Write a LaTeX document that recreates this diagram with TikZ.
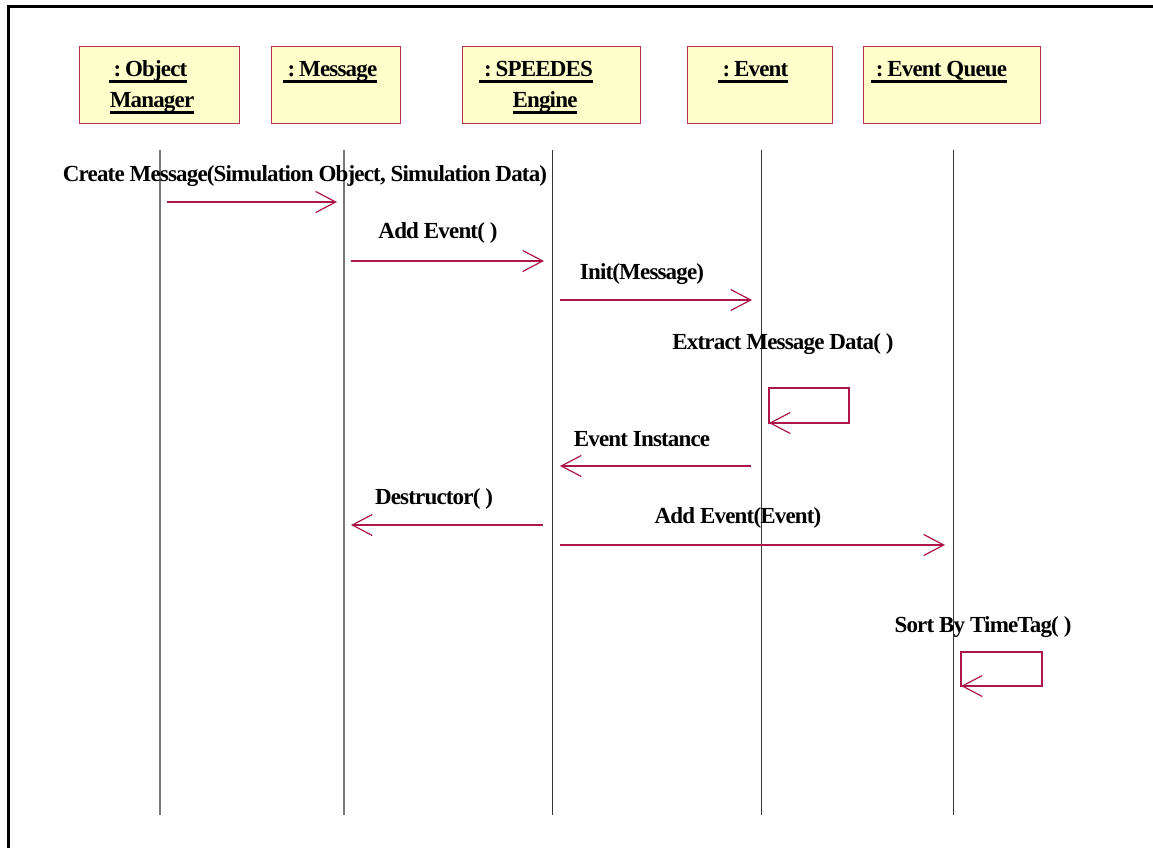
\documentclass[tikz,border=0pt]{standalone}
\usepackage{fontspec}
\setmainfont{Liberation Serif}[LetterSpace=-3.6]
\usetikzlibrary{arrows.meta}
\definecolor{msgred}{RGB}{172,22,72}
\definecolor{boxedge}{RGB}{184,48,84}
\definecolor{boxfill}{RGB}{255,255,204}
\definecolor{lifegray}{RGB}{120,120,120}
\definecolor{lifedark}{RGB}{55,55,55}
\newcommand\ulbl[1]{\setbox0=\hbox{#1}\rlap{\rule[-5.8pt]{\wd0}{2.4pt}}\box0}
\begin{document}
\begin{tikzpicture}[x=1pt,y=-1pt,
  objbox/.style={draw=boxedge,fill=boxfill,line width=1.3pt,inner sep=0pt,anchor=north west,minimum height=77pt},
  lbl/.style={inner sep=0pt,anchor=base,font=\fontsize{23}{27}\selectfont\bfseries},
  lifeA/.style={draw=lifegray,line width=1.5pt},
  lifeB/.style={draw=lifedark,line width=1pt},
  msg/.style={draw=msgred,line width=1.2pt,-{Straight Barb[length=20pt,width=21pt,line width=1.2pt]}},
  loop/.style={draw=msgred,line width=1.2pt}]
\useasboundingbox (0,0) rectangle (1153,848);

% outer frame (left and top edges)
\draw[line width=3pt] (8,848) -- (8,7) -- (1153,7);

% object boxes
\node[objbox,minimum width=160pt] (om) at (79,46) {};
\node[objbox,minimum width=129pt] (ms) at (271,46) {};
\node[objbox,minimum width=178pt] (se) at (462,46) {};
\node[objbox,minimum width=145pt] (ev) at (687,46) {};
\node[objbox,minimum width=177pt] (eq) at (863,46) {};

% object names
\node[lbl] (omA) at (148,77) {\ulbl{\ :\,Object}};
\node[lbl] (omB) at (152,108) {\ulbl{Manager}};
\node[lbl] (msA) at (330,77) {\ulbl{\ :\,Message}};
\node[lbl] (seA) at (536,77) {\ulbl{\ :\,SPEEDES}};
\node[lbl] (seB) at (545,108) {\ulbl{Engine}};
\node[lbl] (evA) at (753,77) {\ulbl{\ :\,Event}};
\node[lbl] (eqA) at (939,77) {\ulbl{\ :\,Event Queue}};

% lifelines
\coordinate (omT) at (160,150); \coordinate (omE) at (160,815);
\coordinate (msT) at (344,150); \coordinate (msE) at (344,815);
\coordinate (seT) at (552.5,150); \coordinate (seE) at (552.5,815);
\coordinate (evT) at (761,150); \coordinate (evE) at (761,815);
\coordinate (eqT) at (953.5,150); \coordinate (eqE) at (953.5,815);
\draw[lifeA] (omT) -- (omE);
\draw[lifeA] (msT) -- (msE);
\draw[lifeB] (seT) -- (seE);
\draw[lifeB] (evT) -- (evE);
\draw[lifeB] (eqT) -- (eqE);

% message end points
\coordinate (m1a) at (167,202);   \coordinate (m1b) at (337,202);
\coordinate (m2a) at (351,261);   \coordinate (m2b) at (544,261);
\coordinate (m3a) at (560,300);   \coordinate (m3b) at (752,300);
\coordinate (m5a) at (751,466);   \coordinate (m5b) at (560,466);
\coordinate (m6a) at (543,525);   \coordinate (m6b) at (351,525);
\coordinate (m7a) at (560,545);   \coordinate (m7b) at (945,545);
\coordinate (s1a) at (769,388);   \coordinate (s1b) at (849,423);
\coordinate (s2a) at (961,652);   \coordinate (s2b) at (1042,686);

% messages
\draw[msg] (m1a) -- (m1b);
\draw[msg] (m2a) -- (m2b);
\draw[msg] (m3a) -- (m3b);
\draw[msg] (m5a) -- (m5b);
\draw[msg] (m6a) -- (m6b);
\draw[msg] (m7a) -- (m7b);

% self calls
\draw[loop] (s1a) rectangle (s1b);
\draw[msg] (s1a |- s1b) ++(8,0) -- (s1a |- s1b);
\draw[loop] (s2a) rectangle (s2b);
\draw[msg] (s2a |- s2b) ++(8,0) -- (s2a |- s2b);

% message labels
\node[lbl] (l1) at (305,181) {Create Message(Simulation Object, Simulation Data)};
\node[lbl] (l2) at (438,238) {Add Event( )};
\node[lbl] (l3) at (642,279) {Init(Message)};
\node[lbl] (l4) at (783,349) {Extract Message Data( )};
\node[lbl] (l5) at (642,446) {Event Instance};
\node[lbl] (l6) at (434,504) {Destructor( )};
\node[lbl] (l7) at (738,523) {Add Event(Event)};
\node[lbl] (l8) at (983,632) {Sort By TimeTag( )};
\end{tikzpicture}
\end{document}
